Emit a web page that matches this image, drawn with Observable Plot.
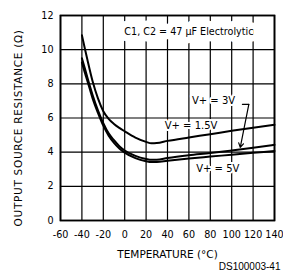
<!DOCTYPE html>
<html>
<head>
<meta charset="utf-8">
<script src="https://cdn.jsdelivr.net/npm/d3@7"></script>
<script src="https://cdn.jsdelivr.net/npm/@observablehq/plot@0.6"></script>
<style>
  html, body { margin: 0; padding: 0; background: #fff; overflow: hidden; }
</style>
</head>
<body>
<div id="chart"></div>
<script>
const temps = [-40, -37, -35, -30, -25, -20, -15, -10, -5, 0, 10, 20, 25, 30, 40, 60, 80, 100, 120, 140];
const r15V = [10.85, 10.0, 9.45, 8.15, 7.15, 6.4, 5.95, 5.65, 5.42, 5.22, 4.85, 4.6, 4.52, 4.53, 4.66, 4.86, 5.05, 5.25, 5.43, 5.6];
const r3V  = [9.5, 8.85, 8.4, 7.35, 6.45, 5.7, 5.1, 4.7, 4.35, 4.1, 3.78, 3.6, 3.55, 3.56, 3.66, 3.82, 3.95, 4.1, 4.26, 4.43];
const r5V  = [9.25, 8.6, 8.2, 7.15, 6.3, 5.55, 4.97, 4.55, 4.22, 3.97, 3.65, 3.47, 3.42, 3.43, 3.5, 3.63, 3.74, 3.85, 3.96, 4.07];

const xTicks = [-60, -40, -20, 0, 20, 40, 60, 80, 100, 120, 140];
const yTicks = [0, 2, 4, 6, 8, 10, 12];
const xDomain = [-60, 140];
const yDomain = [0, 12];

const labelText = ["V+ = 1.5V", "V+ = 3V", "V+ = 5V"];
const labelX = [62, 83, 87];
const labelY = [5.56, 7.03, 3.04];

const noteText = ["C1, C2 = 47 \u03BCF Electrolytic"];
const noteX = [60];
const noteY = [11.02];

// leader for V+ = 3V label: short horizontal, then arrow down to the curve
const leaderX = [110, 116];
const leaderY = [6.8, 6.8];
const arrowX1 = [116], arrowY1 = [6.8], arrowX2 = [108], arrowY2 = [4.28];

const xLabel = "TEMPERATURE (\u00B0C)";
const yLabel = "OUTPUT SOURCE RESISTANCE (\u03A9)";
const docId = "DS100003-41";

const FONT = "DejaVu Sans";

const series = [];
temps.forEach((t, i) => {
  series.push({t, r: r15V[i], s: "1.5V"});
  series.push({t, r: r3V[i], s: "3V"});
  series.push({t, r: r5V[i], s: "5V"});
});
// grid lines as two-point polylines (one group per gridline)
const gridPts = [];
xTicks.forEach(v => {
  gridPts.push({gx: v, gy: yDomain[0], g: "x" + v});
  gridPts.push({gx: v, gy: yDomain[1], g: "x" + v});
});
yTicks.forEach(v => {
  gridPts.push({gx: xDomain[0], gy: v, g: "y" + v});
  gridPts.push({gx: xDomain[1], gy: v, g: "y" + v});
});
const labels = labelText.map((text, i) => ({text, x: labelX[i], y: labelY[i]}));
const notes = noteText.map((text, i) => ({text, x: noteX[i], y: noteY[i]}));
const leader = leaderX.map((x, i) => ({x, y: leaderY[i]}));
const arrows = arrowX1.map((x1, i) => ({x1, y1: arrowY1[i], x2: arrowX2[i], y2: arrowY2[i]}));

const chart = Plot.plot({
  width: 283,
  height: 280,
  marginLeft: 60,
  marginRight: 9,
  marginTop: 15,
  marginBottom: 60,
  x: {domain: xDomain},
  y: {domain: yDomain},
  marks: [
    Plot.frame({stroke: "#000", strokeWidth: 1.5}),
    Plot.line(gridPts, {x: "gx", y: "gy", z: "g", stroke: "#000", strokeWidth: 1.2}),
    Plot.text(notes, {x: "x", y: "y", text: "text", fontFamily: FONT, fontSize: 9.6, stroke: "#fff", strokeWidth: 13, fill: "#000", strokeLinejoin: "round"}),
    Plot.text(labels, {x: "x", y: "y", text: "text", fontFamily: FONT, fontSize: 10, stroke: "#fff", strokeWidth: 4, fill: "#000"}),
    Plot.frame({stroke: "#000", strokeWidth: 1.5}),
    Plot.line(series, {x: "t", y: "r", z: "s", curve: "monotone-x", stroke: "#000", strokeWidth: 2}),
    Plot.line(leader, {x: "x", y: "y", stroke: "#000", strokeWidth: 1.2}),
    Plot.arrow(arrows, {x1: "x1", y1: "y1", x2: "x2", y2: "y2", stroke: "#000", strokeWidth: 1.2, headLength: 6}),
    Plot.axisX({ticks: xTicks, tickSize: 0, tickPadding: 11, label: null, tickFormat: d => (d < 0 ? "-" : "") + Math.abs(d), fontFamily: FONT, fontSize: 9.6, fill: "#000"}),
    Plot.axisY({ticks: yTicks, tickSize: 0, tickPadding: 7, label: null, fontFamily: FONT, fontSize: 9.6, fill: "#000"}),
    Plot.text([xLabel], {frameAnchor: "bottom", dy: 37, fontFamily: FONT, fontSize: 10.5, fill: "#000"}),
    Plot.text([docId], {frameAnchor: "bottom-right", textAnchor: "end", dx: 6, dy: 49, fontSize: 10, fontFamily: "Liberation Sans", fill: "#000"}),
    Plot.text([yLabel], {frameAnchor: "left", textAnchor: "middle", rotate: -90, dx: -42, dy: 10, fontFamily: FONT, fontSize: 10.5, fill: "#000"})
  ]
});
chart.querySelectorAll("text").forEach(t => {
  if (t.textContent === yLabel) t.setAttribute("letter-spacing", "0.7");
});
document.getElementById("chart").appendChild(chart);
</script>
</body>
</html>
